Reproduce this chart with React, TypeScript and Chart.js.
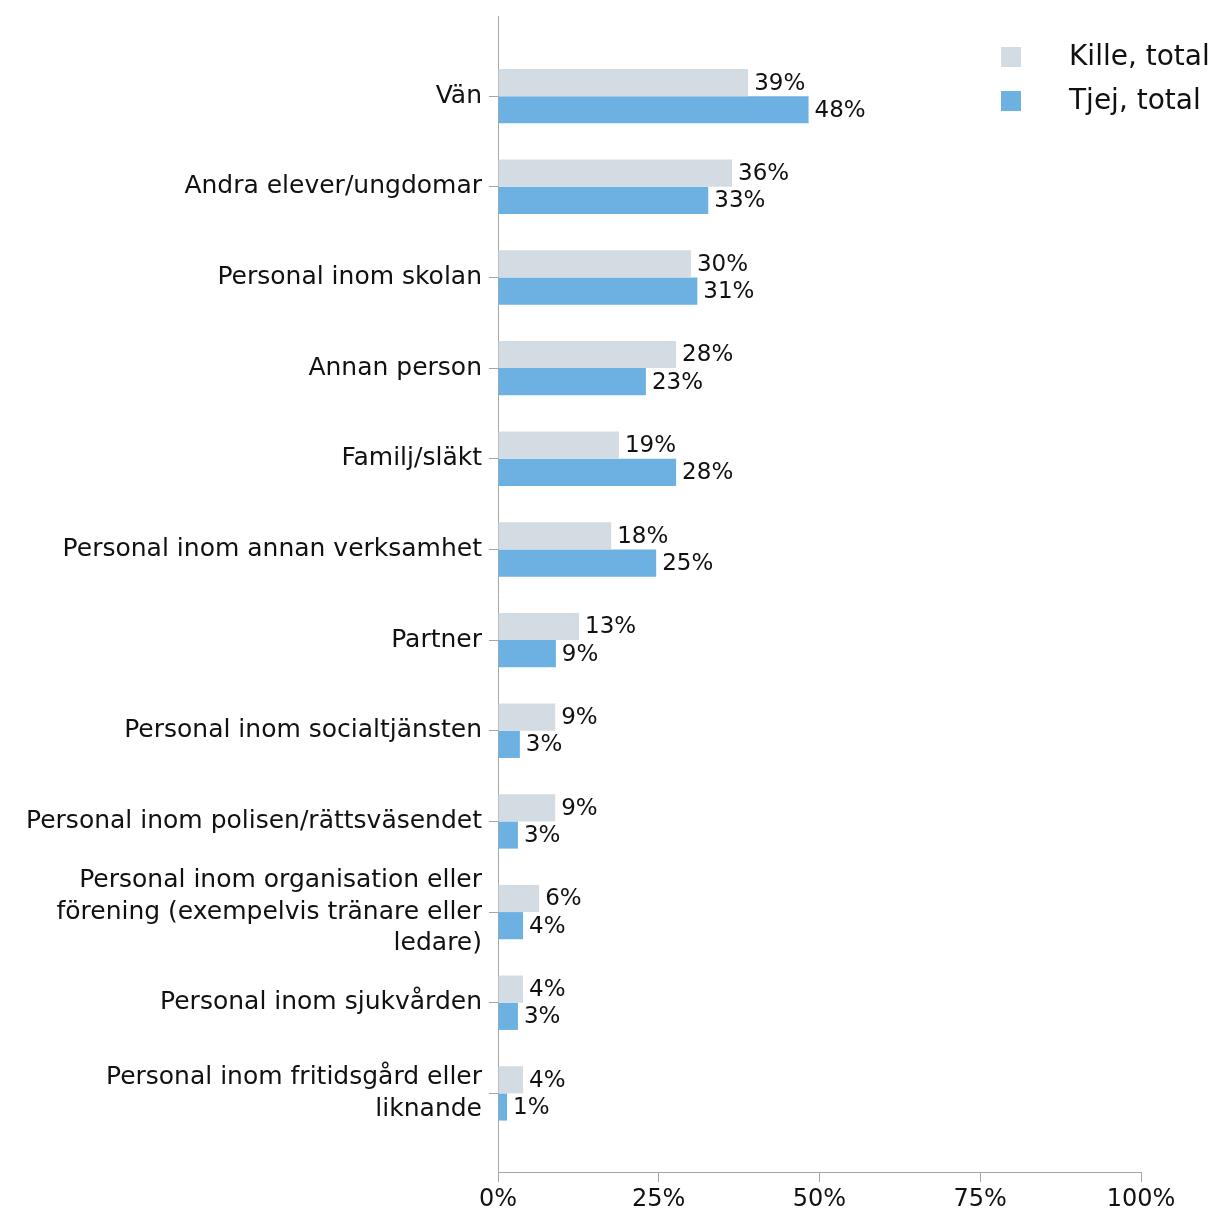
import React, { useEffect, useRef } from "react";
import { Chart, registerables } from "chart.js";

Chart.register(...registerables);

const categories: (string | string[])[] = [
  "Vän",
  "Andra elever/ungdomar",
  "Personal inom skolan",
  "Annan person",
  "Familj/släkt",
  "Personal inom annan verksamhet",
  "Partner",
  "Personal inom socialtjänsten",
  "Personal inom polisen/rättsväsendet",
  ["Personal inom organisation eller", "förening (exempelvis tränare eller", "ledare)"],
  "Personal inom sjukvården",
  ["Personal inom fritidsgård eller", "liknande"],
];

const killeValues = [38.9, 36.4, 30.0, 27.7, 18.8, 17.6, 12.6, 8.9, 8.9, 6.4, 3.9, 3.9];
const tjejValues = [48.3, 32.7, 31.0, 23.0, 27.7, 24.6, 9.0, 3.4, 3.1, 3.9, 3.1, 1.4];

const seriesNames = ["Kille, total", "Tjej, total"];
const seriesColors = ["#d2dce2", "#6cb1e1"];
const xTicks = [0, 25, 50, 75, 100];

const FONT = "'DejaVu Sans', sans-serif";
const AXIS_COLOR = "#a6a6a6";
const TEXT_COLOR = "#111111";

const valueLabelPlugin = {
  id: "valueLabels",
  afterDatasetsDraw(chart: any) {
    const ctx = chart.ctx;
    ctx.save();
    ctx.font = `23px ${FONT}`;
    ctx.fillStyle = TEXT_COLOR;
    ctx.textBaseline = "middle";
    ctx.textAlign = "left";
    chart.data.datasets.forEach((ds: any, di: number) => {
      const meta = chart.getDatasetMeta(di);
      meta.data.forEach((el: any, i: number) => {
        const v = ds.data[i].x;
        ctx.fillText(`${Math.round(v)}%`, el.x + 6, el.y + 1);
      });
    });
    ctx.restore();
  },
};

const legendPlugin = {
  id: "customLegend",
  afterDraw(chart: any) {
    const ctx = chart.ctx;
    ctx.save();
    ctx.font = `28px ${FONT}`;
    ctx.textBaseline = "middle";
    ctx.textAlign = "left";
    seriesNames.forEach((name, i) => {
      const y = 57 + i * 44;
      ctx.fillStyle = seriesColors[i];
      ctx.fillRect(1001, y - 10, 20, 20);
      ctx.fillStyle = TEXT_COLOR;
      ctx.fillText(name, 1069, y + 1);
    });
    ctx.restore();
  },
};

export default function App() {
  const ref = useRef<HTMLCanvasElement>(null);
  useEffect(() => {
    if (!ref.current) return;
    const chart = new Chart(ref.current, {
      type: "bar",
      data: {
        datasets: [
          {
            label: seriesNames[0],
            data: killeValues.map((v, i) => ({ x: v, y: i })),
            backgroundColor: seriesColors[0],
            categoryPercentage: 0.6,
            barPercentage: 1,
          },
          {
            label: seriesNames[1],
            data: tjejValues.map((v, i) => ({ x: v, y: i })),
            backgroundColor: seriesColors[1],
            categoryPercentage: 0.6,
            barPercentage: 1,
          },
        ],
      },
      options: {
        indexAxis: "y",
        animation: false,
        responsive: true,
        maintainAspectRatio: false,
        layout: { padding: { top: 16, right: 74, left: 0, bottom: 0 } },
        plugins: {
          legend: { display: false },
          tooltip: { enabled: false },
        },
        scales: {
          y: {
            type: "linear",
            reverse: true,
            offset: false,
            min: -0.884,
            max: 11.867,
            afterBuildTicks: (s: any) => {
              s.ticks = categories.map((_, i) => ({ value: i }));
            },
            afterFit: (s: any) => {
              s.width = 498;
              s.paddingTop = 0;
              s.paddingBottom = 0;
            },
            ticks: {
              autoSkip: false,
              padding: 7,
              color: TEXT_COLOR,
              font: { family: FONT, size: 25, lineHeight: 1.25 },
              callback: (v: any) => categories[v as number],
            },
            grid: { drawOnChartArea: false, offset: false, tickLength: 9, color: AXIS_COLOR },
            border: { color: AXIS_COLOR },
          },
          x: {
            type: "linear",
            min: 0,
            max: 100,
            afterBuildTicks: (s: any) => {
              s.ticks = xTicks.map((v) => ({ value: v }));
            },
            afterFit: (s: any) => {
              s.height = 38;
            },
            ticks: {
              padding: 3,
              color: TEXT_COLOR,
              font: { family: FONT, size: 24 },
              callback: (v: any) => `${v}%`,
            },
            grid: { drawOnChartArea: false, tickLength: 10, color: AXIS_COLOR },
            border: { color: AXIS_COLOR },
          },
        },
      },
      plugins: [valueLabelPlugin, legendPlugin],
    } as any);
    return () => chart.destroy();
  }, []);
  return (
    <div style={{ position: "fixed", left: 0, top: 0, width: 1215, height: 1210, background: "#fff" }}>
      <canvas ref={ref} />
    </div>
  );
}
